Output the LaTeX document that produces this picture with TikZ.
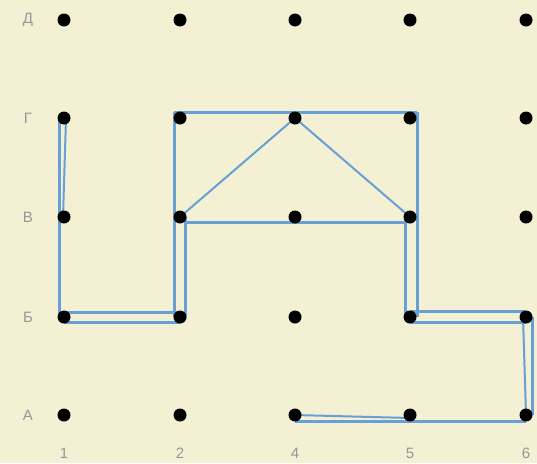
\documentclass[tikz,border=0pt]{standalone}
\usepackage{fontspec}
\setmainfont{Liberation Sans}
\usetikzlibrary{calc}
\definecolor{board}{RGB}{244,240,212}
\definecolor{bandblue}{RGB}{104,160,214}
\definecolor{labelgray}{RGB}{150,150,150}

\begin{document}
\begin{tikzpicture}[x=1pt, y=-1pt,
    dot/.style={circle, fill=black, inner sep=0pt, minimum size=13pt},
    band/.style={bandblue, line width=3pt, line join=round},
    thinband/.style={bandblue, line width=2pt},
    lbl/.style={labelgray, font=\fontsize{15}{15}\selectfont}]
        \fill[board] (0,0) rectangle (537,463);
        \useasboundingbox (0,0) rectangle (537,463);
        % peg positions
        \foreach \c/\x in {1/64, 2/180, 4/295, 5/410, 6/526}{
          \foreach \r/\y in {A/415, B/317, V/217, G/118, D/20}{
            \coordinate (p\c\r) at (\x,\y);
          }
        }
        % rubber band
        \draw[band] ($(p1G)+(-5,0)$) -- ($(p1B)+(-5,0)$);
        \draw[thinband] ($(p1G)+(2,0)$) -- ($(p1V)+(-1,0)$);
        \draw[band] ($(p1B)+(0,-5)$) -- ($(p2B)+(0,-5)$);
        \draw[band] ($(p1B)+(0,5)$) -- ($(p2B)+(0,5)$);
        \draw[band] ($(p2G)+(-6,-6)$) -- ($(p2B)+(-6,0)$);
        \draw[band] ($(p2V)+(5,0)$) -- ($(p2B)+(5,0)$);
        \draw[band] ($(p2G)+(-6,-6)$) -- ($(p5G)+(7,-6)$);
        \draw[band] ($(p5G)+(7,-6)$) -- ($(p5B)+(7,0)$);
        \draw[band] ($(p5V)+(-5,0)$) -- ($(p5B)+(-5,0)$);
        \draw[band] ($(p2V)+(5,5)$) -- ($(p5V)+(-5,5)$);
        \draw[thinband] (p2V) -- (p4G) -- (p5V);
        \draw[band] ($(p5B)+(0,-6)$) -- ($(p6B)+(0,-6)$);
        \draw[band] ($(p5B)+(0,5)$) -- ($(p6B)+(0,5)$);
        \draw[band] ($(p6B)+(6,0)$) -- ($(p6A)+(6,0)$);
        \draw[thinband] ($(p6B)+(-3,0)$) -- (p6A);
        \draw[band] ($(p4A)+(0,6)$) -- ($(p6A)+(0,6)$);
        \draw[thinband] (p4A) -- ($(p5A)+(0,3)$);
        % pegs
        \foreach \c in {1,2,4,5,6}{
          \foreach \r in {A,B,V,G,D}{
            \node[dot] (n\c\r) at (p\c\r) {};
          }
        }
        % row and column labels
        \foreach \r/\t in {A/А, B/Б, V/В, G/Г, D/Д}{
          \node[lbl] (row\r) at ($(p1\r)+(-36,0)$) {\t};
        }
        \foreach \c in {1,2,4,5,6}{
          \node[lbl] (col\c) at ($(p\c A)+(0,38)$) {\c};
        }
      \end{tikzpicture}
\end{document}
